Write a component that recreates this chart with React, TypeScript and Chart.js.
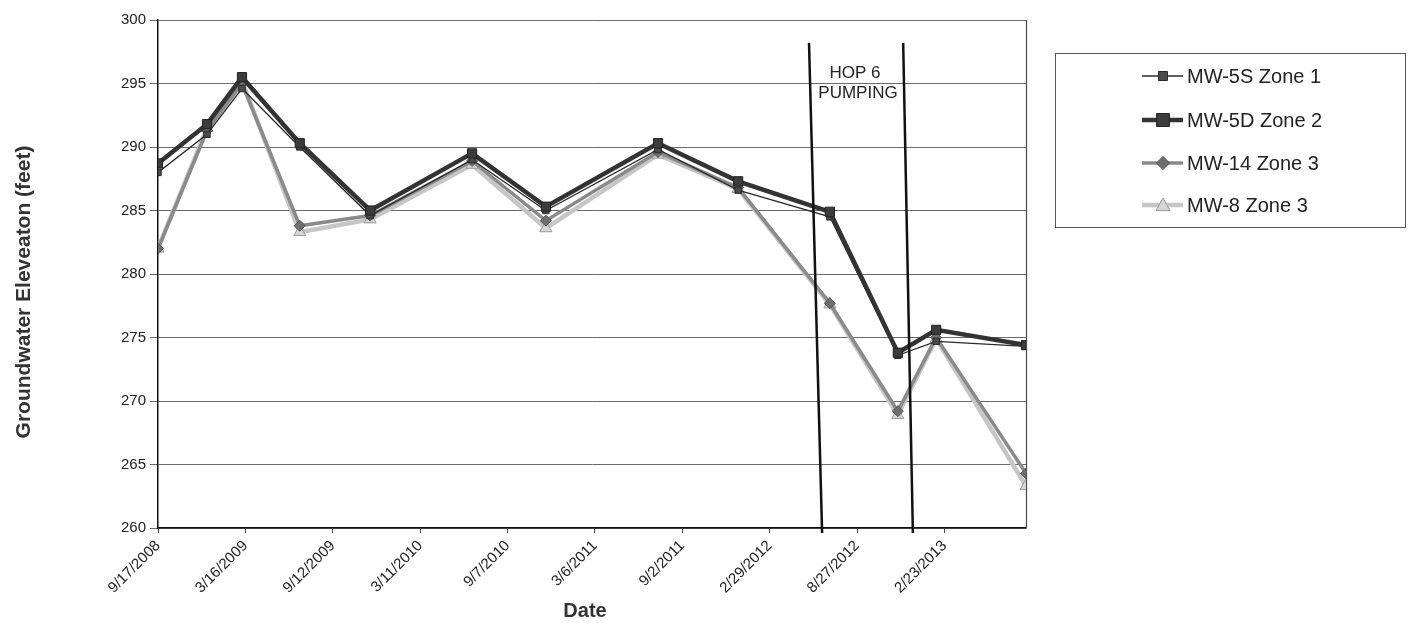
import React, { useEffect, useRef } from "react";
import { Chart, registerables } from "chart.js";

Chart.register(...registerables);

// ---------------- data ----------------
const sampleDates = [
  "9/17/2008", "12/27/2008", "3/9/2009", "7/6/2009", "11/28/2009", "6/26/2010",
  "11/25/2010", "7/14/2011", "12/26/2011", "7/2/2012", "11/19/2012", "2/6/2013", "8/10/2013",
];
const mw5s = [288.0, 291.0, 294.6, 290.0, 284.6, 289.0, 285.0, 289.8, 286.6, 284.5, 273.6, 274.7, 274.3];
const mw5d = [288.7, 291.8, 295.5, 290.3, 285.0, 289.5, 285.3, 290.3, 287.3, 284.9, 273.8, 275.6, 274.4];
const mw14 = [282.0, 291.3, 295.0, 283.8, 284.6, 288.9, 284.2, 289.6, 286.8, 277.7, 269.2, 275.0, 264.3];
const mw8 = [282.0, 291.5, 295.2, 283.3, 284.3, 288.6, 283.6, 289.4, 286.7, 277.6, 268.9, 274.9, 263.3];

const seriesLabels = ["MW-5S Zone 1", "MW-5D Zone 2", "MW-14 Zone 3", "MW-8 Zone 3"];

const tickDates = [
  "9/17/2008", "3/16/2009", "9/12/2009", "3/11/2010", "9/7/2010",
  "3/6/2011", "9/2/2011", "2/29/2012", "8/27/2012", "2/23/2013",
];
const yMin = 260;
const yMax = 300;
const yStep = 5;

// hand-drawn "HOP 6 PUMPING" boundary lines: [top date, bottom date]
const pumpingStartLine = ["5/20/2012", "6/16/2012"];
const pumpingEndLine = ["11/30/2012", "12/20/2012"];
const pumpingLineLevels = [298.2, 259.6];
const pumpingText = ["HOP 6", "PUMPING"];

const yTitle = "Groundwater Eleveaton (feet)";
const xTitle = "Date";

// ---------------- helpers ----------------
const FONT = "'Liberation Sans', Arial, Helvetica, sans-serif";

const parseDate = (s: string) => {
  const [m, d, y] = s.split("/").map(Number);
  return Date.UTC(y, m - 1, d);
};
const ORIGIN = parseDate(tickDates[0]);
const toDays = (s: string) => Math.round((parseDate(s) - ORIGIN) / 86400000);
const fromDays = (v: number) => {
  const dt = new Date(ORIGIN + v * 86400000);
  return `${dt.getUTCMonth() + 1}/${dt.getUTCDate()}/${dt.getUTCFullYear()}`;
};

const seriesValues = [mw5s, mw5d, mw14, mw8];

const seriesStyles = [
  { line: "#2a2a2a", width: 1.3, point: "rect", radius: 4.5, fill: "#4a4a4a", stroke: "#2a2a2a" },
  { line: "#333333", width: 4.5, point: "rect", radius: 6.5, fill: "#3c3c3c", stroke: "#222222" },
  { line: "#8a8a8a", width: 3.5, point: "rectRot", radius: 5.5, fill: "#6e6e6e", stroke: "#555555" },
  { line: "#c6c6c6", width: 4.5, point: "triangle", radius: 7, fill: "#d6d6d6", stroke: "#9a9a9a" },
];

function drawMarker(ctx: CanvasRenderingContext2D, style: string, x: number, y: number, r: number) {
  ctx.beginPath();
  if (style === "rect") {
    ctx.rect(x - r, y - r, 2 * r, 2 * r);
  } else if (style === "rectRot") {
    ctx.moveTo(x, y - r * 1.2);
    ctx.lineTo(x + r * 1.2, y);
    ctx.lineTo(x, y + r * 1.2);
    ctx.lineTo(x - r * 1.2, y);
    ctx.closePath();
  } else {
    ctx.moveTo(x, y - r);
    ctx.lineTo(x + r, y + r * 0.8);
    ctx.lineTo(x - r, y + r * 0.8);
    ctx.closePath();
  }
  ctx.fill();
  ctx.stroke();
}

const decorPlugin = {
  id: "decor",
  beforeDatasetsDraw(chart: any) {
    const { ctx, chartArea: a } = chart;
    ctx.save();
    ctx.strokeStyle = "#4a4a4a";
    ctx.lineWidth = 1.2;
    ctx.beginPath();
    ctx.moveTo(a.right + 0.5, a.top);
    ctx.lineTo(a.right + 0.5, a.bottom);
    ctx.stroke();
    ctx.restore();
  },
  afterDraw(chart: any) {
    const { ctx } = chart;
    ctx.save();
    // axis titles
    ctx.fillStyle = "#333";
    ctx.font = `bold 21px ${FONT}`;
    ctx.textAlign = "center";
    ctx.textBaseline = "middle";
    ctx.save();
    ctx.translate(24, 292);
    ctx.rotate(-Math.PI / 2);
    ctx.fillText(yTitle, 0, 0);
    ctx.restore();
    ctx.font = `bold 20px ${FONT}`;
    ctx.fillText(xTitle, 585, 611);

    // annotation text
    ctx.fillStyle = "#222";
    ctx.font = `17px ${FONT}`;
    ctx.fillText(pumpingText[0], 855, 73);
    ctx.fillText(pumpingText[1], 858, 93);

    // legend box
    ctx.strokeStyle = "#555";
    ctx.lineWidth = 1;
    ctx.strokeRect(1055.5, 53.5, 350, 174);
    const rows = [76, 120, 163, 205];
    seriesLabels.forEach((lab, i) => {
      const st = seriesStyles[i];
      const y = rows[i];
      ctx.strokeStyle = st.line;
      ctx.lineWidth = st.width;
      ctx.beginPath();
      ctx.moveTo(1142, y);
      ctx.lineTo(1183, y);
      ctx.stroke();
      ctx.fillStyle = st.fill;
      ctx.strokeStyle = st.stroke;
      ctx.lineWidth = 1;
      drawMarker(ctx, st.point, 1163, y, st.radius);
      ctx.fillStyle = "#222";
      ctx.font = `20px ${FONT}`;
      ctx.textAlign = "left";
      ctx.textBaseline = "middle";
      ctx.fillText(lab, 1187, y + 1);
    });
    ctx.restore();
  },
};

export default function App() {
  const canvasRef = useRef<HTMLCanvasElement | null>(null);

  useEffect(() => {
    const canvas = canvasRef.current;
    if (!canvas) return;
    const xs = sampleDates.map(toDays);

    const dataDatasets = seriesValues.map((vals, i) => {
      const st = seriesStyles[i];
      return {
        label: seriesLabels[i],
        data: vals.map((v, j) => ({ x: xs[j], y: v })),
        borderColor: st.line,
        borderWidth: st.width,
        pointStyle: st.point,
        pointRadius: st.radius,
        pointBackgroundColor: st.fill,
        pointBorderColor: st.stroke,
        pointBorderWidth: 1,
        tension: 0,
        fill: false,
        order: [2, 1, 3, 4][i],
      };
    });

    const lineDs = (dates: string[]) => ({
      label: "",
      data: dates.map((d, j) => ({ x: toDays(d), y: pumpingLineLevels[j] })),
      borderColor: "#111",
      borderWidth: 2.5,
      pointRadius: 0,
      fill: false,
      clip: false,
      order: 0,
    });

    const chart = new Chart(canvas, {
      type: "line",
      data: {
        datasets: [lineDs(pumpingStartLine), lineDs(pumpingEndLine), ...dataDatasets] as any,
      },
      options: {
        animation: false,
        responsive: false,
        devicePixelRatio: 1,
        layout: { padding: { top: 20, right: 382, left: 0, bottom: 0 } },
        plugins: { legend: { display: false }, tooltip: { enabled: false } },
        scales: {
          x: {
            type: "linear",
            min: 0,
            max: toDays(sampleDates[sampleDates.length - 1]),
            afterBuildTicks: (scale: any) => {
              scale.ticks = tickDates.map((d) => ({ value: toDays(d) }));
            },
            afterFit: (scale: any) => {
              scale.height = 98;
            },
            ticks: {
              autoSkip: false,
              minRotation: 45,
              maxRotation: 45,
              padding: 4,
              color: "#222",
              font: { family: FONT, size: 15 },
              callback: (v: any) => fromDays(Number(v)),
            },
            grid: { drawOnChartArea: false, drawTicks: true, tickLength: 5, color: "#444" },
            border: { color: "#111", width: 1.5 },
          },
          y: {
            min: yMin,
            max: yMax,
            afterFit: (scale: any) => {
              scale.width = 158;
            },
            ticks: {
              stepSize: yStep,
              padding: 4,
              color: "#222",
              font: { family: FONT, size: 15 },
            },
            grid: { color: "#6a6a6a", lineWidth: 1, tickLength: 8 },
            border: { color: "#111", width: 1.5 },
          },
        },
      } as any,
      plugins: [decorPlugin],
    });
    return () => chart.destroy();
  }, []);

  return (
    <div style={{ position: "absolute", left: 0, top: 0, width: 1408, height: 626, background: "#fff" }}>
      <canvas ref={canvasRef} width={1408} height={626} />
    </div>
  );
}
